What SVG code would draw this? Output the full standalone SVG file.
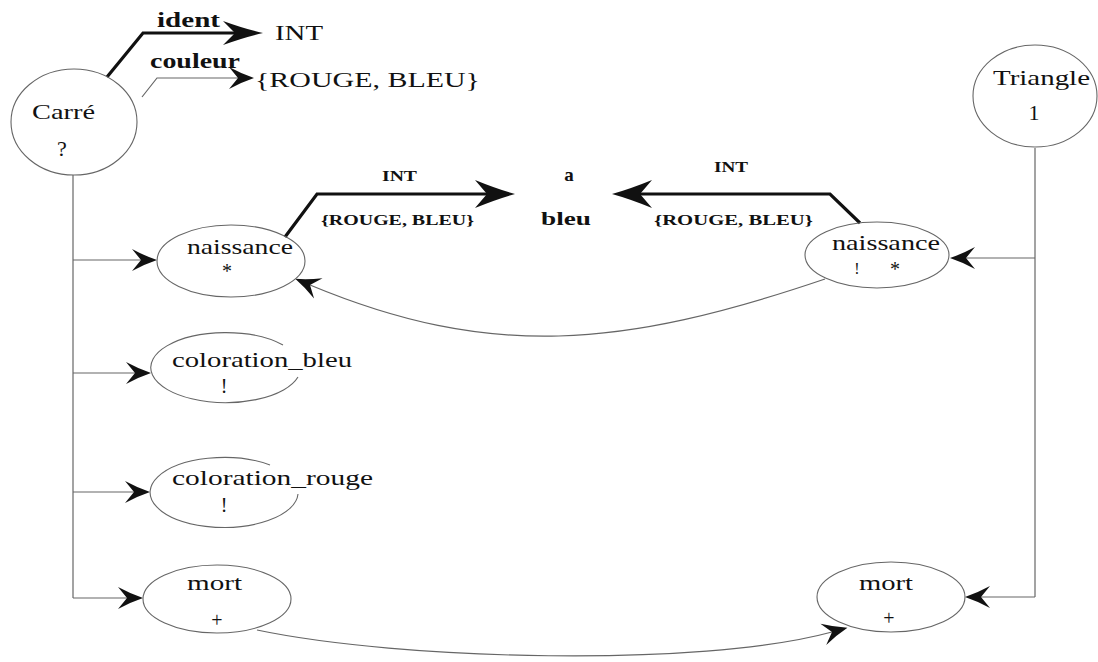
<svg xmlns="http://www.w3.org/2000/svg" width="1098" height="662" viewBox="0 0 1098 662">
  <style>
    text { font-family: "Liberation Serif", "Times New Roman", serif; fill: #111; }
    .lbl { font-size: 22px; }
    .mk { font-size: 20px; }
    .mks { font-size: 16px; }
    .bold { font-weight: bold; }
    .small { font-size: 15px; font-weight: bold; }
    .node { fill: none; stroke: #666; stroke-width: 1.1; }
    .thin { fill: none; stroke: #666; stroke-width: 1.2; }
    .thick { fill: none; stroke: #111; stroke-width: 3.2; stroke-linejoin: miter; }
  </style>
  <defs>
    <!-- barbed arrowheads, origin at the notch -->
    <marker id="head" markerUnits="userSpaceOnUse" orient="auto" refX="0" refY="0" markerWidth="10" markerHeight="10" overflow="visible">
      <path d="M16,0 Q4,-4 -9,-11 L0,0 L-9,11 Q4,4 16,0 Z" fill="#111"/>
    </marker>
    <marker id="headBig" markerUnits="userSpaceOnUse" orient="auto" refX="0" refY="0" markerWidth="10" markerHeight="10" overflow="visible">
      <path d="M28,0 Q10,-5 -12,-14 L0,0 L-12,14 Q10,5 28,0 Z" fill="#111"/>
    </marker>
    <marker id="headMid" markerUnits="userSpaceOnUse" orient="auto" refX="0" refY="0" markerWidth="10" markerHeight="10" overflow="visible">
      <path d="M28,0 Q10,-4 -12,-12 L0,0 L-12,12 Q10,4 28,0 Z" fill="#111"/>
    </marker>
  </defs>

  <g id="connectors">
    <!-- attributes of Carré -->
    <path class="thick" d="M107,77 L143,33 H235" marker-end="url(#headMid)"/>
    <path class="thin" d="M142,97 L157,78 H238" marker-end="url(#head)"/>
    <!-- Carré trunk and branches -->
    <path class="thin" d="M73,175 V598"/>
    <path class="thin" d="M73,260 H141" marker-end="url(#head)"/>
    <path class="thin" d="M73,373 H135" marker-end="url(#head)"/>
    <path class="thin" d="M73,492 H134" marker-end="url(#head)"/>
    <path class="thin" d="M73,598 H127" marker-end="url(#head)"/>
    <!-- Triangle trunk and branches -->
    <path class="thin" d="M1035,148 V597"/>
    <path class="thin" d="M1035,258 H966" marker-end="url(#head)"/>
    <path class="thin" d="M1035,597 H981" marker-end="url(#head)"/>
    <!-- naissance parameters -->
    <path class="thick" d="M285,237 L317,194 H487" marker-end="url(#headBig)"/>
    <path class="thick" d="M860,223 L830,194 H640" marker-end="url(#headBig)"/>
    <!-- synchronisations -->
    <path class="thin" d="M825,279 C622,348 490,360 310,285" marker-end="url(#head)"/>
    <path class="thin" d="M257,630 C400,660 700,668 832,632" marker-end="url(#head)"/>
  </g>

  <g id="attr-labels">
    <text class="mk bold" x="157" y="27" textLength="63" lengthAdjust="spacingAndGlyphs">ident</text>
    <text class="lbl" x="275" y="40" textLength="48" lengthAdjust="spacingAndGlyphs">INT</text>
    <text class="mk bold" x="150" y="68" textLength="90" lengthAdjust="spacingAndGlyphs">couleur</text>
    <text class="lbl" x="255" y="87" textLength="225" lengthAdjust="spacingAndGlyphs">{ROUGE, BLEU}</text>
  </g>

  <g id="carre">
    <ellipse class="node" cx="74" cy="122" rx="63" ry="53"/>
    <text class="lbl" x="32" y="119" textLength="63" lengthAdjust="spacingAndGlyphs">Carré</text>
    <text class="lbl" x="62" y="156" text-anchor="middle">?</text>
  </g>

  <g id="triangle">
    <ellipse class="node" cx="1035" cy="96" rx="62" ry="51"/>
    <text class="lbl" x="993" y="85" textLength="97" lengthAdjust="spacingAndGlyphs">Triangle</text>
    <text class="lbl" x="1034" y="120" text-anchor="middle">1</text>
  </g>

  <g id="params">
    <text class="small" x="382" y="181" textLength="35" lengthAdjust="spacingAndGlyphs">INT</text>
    <text class="small" x="321" y="225" textLength="153" lengthAdjust="spacingAndGlyphs">{ROUGE, BLEU}</text>
    <text class="bold" x="569" y="181" font-size="19" text-anchor="middle">a</text>
    <text class="bold" x="541" y="225" font-size="19" textLength="50" lengthAdjust="spacingAndGlyphs">bleu</text>
    <text class="small" x="714" y="172" textLength="34" lengthAdjust="spacingAndGlyphs">INT</text>
    <text class="small" x="654" y="225" textLength="159" lengthAdjust="spacingAndGlyphs">{ROUGE, BLEU}</text>
  </g>

  <g id="naissance-carre">
    <ellipse class="node" cx="231" cy="261" rx="74" ry="36"/>
    <text class="lbl" x="187" y="254" textLength="106" lengthAdjust="spacingAndGlyphs">naissance</text>
    <text class="mk" x="227" y="278" text-anchor="middle">*</text>
  </g>

  <g id="naissance-triangle">
    <ellipse class="node" cx="877" cy="255" rx="72" ry="33"/>
    <text class="lbl" x="832" y="250" textLength="108" lengthAdjust="spacingAndGlyphs">naissance</text>
    <text class="mks" x="857" y="274" text-anchor="middle">!</text>
    <text class="mk" x="895" y="276" text-anchor="middle">*</text>
  </g>

  <g id="coloration-bleu">
    <path class="node" d="M283,345 A75,35 0 1 0 298,377"/>
    <text class="lbl" x="172" y="367" textLength="180" lengthAdjust="spacingAndGlyphs">coloration_bleu</text>
    <text class="mk" x="224" y="393" text-anchor="middle">!</text>
  </g>

  <g id="coloration-rouge">
    <path class="node" d="M270,465 A74,35 0 1 0 298,494"/>
    <text class="lbl" x="172" y="485" textLength="201" lengthAdjust="spacingAndGlyphs">coloration_rouge</text>
    <text class="mk" x="224" y="512" text-anchor="middle">!</text>
  </g>

  <g id="mort-carre">
    <ellipse class="node" cx="217" cy="599" rx="74" ry="34"/>
    <text class="lbl" x="187" y="590" textLength="55" lengthAdjust="spacingAndGlyphs">mort</text>
    <text class="mk" x="217" y="627" text-anchor="middle">+</text>
  </g>

  <g id="mort-triangle">
    <ellipse class="node" cx="891" cy="597" rx="74" ry="35"/>
    <text class="lbl" x="859" y="590" textLength="54" lengthAdjust="spacingAndGlyphs">mort</text>
    <text class="mk" x="889" y="625" text-anchor="middle">+</text>
  </g>
</svg>
